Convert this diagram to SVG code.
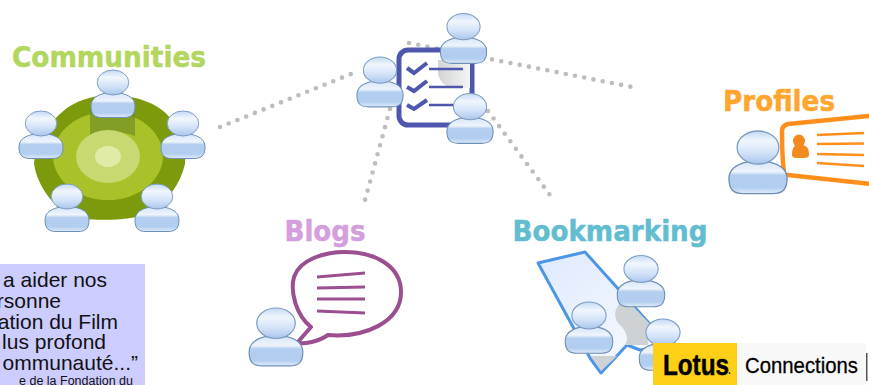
<svg xmlns="http://www.w3.org/2000/svg" width="869" height="385" viewBox="0 0 869 385">
<style>
.title{font-family:"DejaVu Sans",sans-serif;font-weight:700;font-size:28px;stroke-width:.5px;stroke-linejoin:round}
.quote{font-family:"Liberation Sans",Arial,sans-serif;font-size:21px;fill:#111;text-anchor:end}
.dots{fill:none;stroke:#bdbdbd;stroke-width:4.6;stroke-linecap:round;stroke-dasharray:0 9.4}
.ln{fill:none;stroke-linecap:butt}
</style>
<defs>
<filter id="soft" x="-5%" y="-5%" width="110%" height="110%"><feGaussianBlur stdDeviation=".45"/></filter>
<linearGradient id="headG" x1="0" y1="0" x2="0" y2="1"><stop offset="0" stop-color="#c4d9f3"/><stop offset=".3" stop-color="#f1f6fd"/><stop offset=".65" stop-color="#d3e3f8"/><stop offset="1" stop-color="#a9c6ec"/></linearGradient>
<linearGradient id="bodyG" x1="0" y1="0" x2="0" y2="1"><stop offset="0" stop-color="#d8e6f9"/><stop offset=".3" stop-color="#eef4fc"/><stop offset=".42" stop-color="#b4cef0"/><stop offset=".8" stop-color="#b1cdf0"/><stop offset="1" stop-color="#e2ecfa"/></linearGradient>
<linearGradient id="shade" x1="0" y1="0" x2="1" y2="0"><stop offset="0" stop-color="#d2d4d6"/><stop offset="1" stop-color="#f4f4f4"/></linearGradient>
<linearGradient id="bmG" x1="0" y1="0" x2="1" y2="1"><stop offset="0" stop-color="#dfeafe"/><stop offset="1" stop-color="#fafcff"/></linearGradient>
<g id="person" filter="url(#soft)">
<path d="M-22 36 C-22 28 -15 25 -9 23.500 L9 23.500 C15 25 22 28 22 36 C22 44 19 47.500 11 47.500 L-11 47.500 C-19 47.500 -22 44 -22 36 Z" fill="url(#bodyG)" stroke="#6c8fb6" stroke-width="1"/>
<ellipse cx="0" cy="12.500" rx="15.800" ry="12.500" fill="url(#headG)" stroke="#7d9dc2" stroke-width="1"/>
</g>
</defs>

<rect width="869" height="385" fill="#fff"/>

<g id="connectors">
<path class="dots" d="M220 127 L356 72"/>
<path class="dots" d="M409 43 L632 87"/>
<path class="dots" d="M390 109 L365 200"/>
<path class="dots" d="M488 111 L550 195"/>
</g>

<g id="communities">
<text class="title" x="109" y="67" fill="#b2d65e" stroke="#b2d65e" text-anchor="middle" textLength="194" lengthAdjust="spacingAndGlyphs">Communities</text>
<g filter="url(#soft)">
<path d="M110 95 C135 95 160 104 170 118 C180 132 186 150 185 164 C180 185 168 200 150 213 C130 221 90 222 68 216 C50 203 36 182 34 163 C36 140 52 118 70 106 C82 99 96 95 110 95 Z" fill="#7d9a09"/>
<ellipse cx="108" cy="156" rx="55" ry="44" fill="#a9c22c"/>
<path d="M90 108 L135 108 L135 136 C120 130 100 130 90 136 Z" fill="#6f8a24" opacity=".65"/>
<ellipse cx="108" cy="156.500" rx="32" ry="26.500" fill="#c7d96f"/>
<ellipse cx="108" cy="156.500" rx="13" ry="10.500" fill="#e0eca6"/>
</g>
<use href="#person" x="113" y="70"/>
<use href="#person" x="41" y="111"/>
<use href="#person" x="183" y="111"/>
<use href="#person" x="67" y="184"/>
<use href="#person" x="157" y="184"/>
</g>

<g id="center">
<rect x="399" y="50" width="73" height="75" rx="9" fill="#fff" stroke="#4f56ad" stroke-width="5"/>
<path d="M438 60 L470 60 L470 88 L452 88 C444 86 438 80 438 72 Z" fill="url(#shade)"/>
<g class="ln" stroke="#4f56ad">
<path d="M407 68 L414 73 L427 63" stroke-width="4"/>
<path d="M407 87 L414 91 L427 81" stroke-width="4"/>
<path d="M407 105 L414 109 L427 100" stroke-width="4"/>
<path d="M429 69 L463 69 M429 87 L463 87 M429 105 L460 105" stroke-width="2.500"/>
</g>
<use href="#person" transform="translate(463.500 13.500) scale(1.05)"/>
<use href="#person" transform="translate(380 57) scale(1.05)"/>
<use href="#person" transform="translate(470 93.500) scale(1.05)"/>
</g>

<g id="profiles">
<text class="title" x="779" y="111" fill="#ffa62f" stroke="#ffa62f" text-anchor="middle" textLength="112" lengthAdjust="spacingAndGlyphs">Profiles</text>
<path d="M880 115 L788 124 C784 125 782 127 782 131 C782 145 782 158 784 172 C784 174 785 175 788 175 L880 185 Z" fill="#fff" stroke="#ff8f1c" stroke-width="4.500"/>
<ellipse cx="799" cy="141" rx="6" ry="6.500" fill="#f28a1e"/>
<path d="M792 155 C792 146 795 145 800 145 C806 145 809 147 809 155 C809 158 805 158 800 158 C795 158 792 158 792 155 Z" fill="#f28a1e"/>
<g class="ln" stroke="#ff8f1c" stroke-width="2.600"><path d="M817 135 L864 133 M817 144 L864 143.500 M817 154 L864 155 M817 163 L864 166"/></g>
<use href="#person" transform="translate(758 131) scale(1.32)"/>
</g>

<g id="blogs">
<text class="title" x="325" y="241" fill="#d49fdc" stroke="#d49fdc" text-anchor="middle" textLength="81" lengthAdjust="spacingAndGlyphs">Blogs</text>
<path d="M311 327 C296 315 290 292 294 277 C300 259 325 252 345 252 C375 252 401 266 401 292 C401 322 365 338 328 335 C318 342 305 344 297 343 Z" fill="#fff" stroke="#9b4f8f" stroke-width="4" stroke-linejoin="round" filter="url(#soft)"/>
<g class="ln" stroke="#9b4f8f" stroke-width="2.800"><path d="M317 277 L365 273 M317 288 L365 287 M317 299 L365 299 M317 311 L365 313"/></g>
<use href="#person" transform="translate(276 308) scale(1.22)"/>
</g>

<g id="bookmarking">
<text class="title" x="610" y="241" fill="#61bdd0" stroke="#61bdd0" text-anchor="middle" textLength="195" lengthAdjust="spacingAndGlyphs">Bookmarking</text>
<path d="M538 263 L585 252 L648 322 L672 345 L640 350 L627 345 L601 373 L590 358 Z" fill="url(#bmG)" stroke="#4c96e6" stroke-width="3" stroke-linejoin="round" filter="url(#soft)"/>
<path d="M625 298 C612 308 613 320 622 327 C628 335 628 340 625 345 L648 345 L650 324 Z" fill="#cfd2d4" filter="url(#soft)"/>
<path d="M591 356 L617 356 L601 371 Z" fill="#cfd2d4" filter="url(#soft)"/>
<use href="#person" transform="translate(663 319) scale(1.08)"/>
<use href="#person" transform="translate(641 255.500) scale(1.08)"/>
<use href="#person" transform="translate(589 302) scale(1.08)"/>
</g>

<g id="quote">
<rect x="0" y="264" width="145" height="121" fill="#ccccff"/>
<text class="quote" x="107" y="287">a aider nos</text>
<text class="quote" x="61" y="308">rsonne</text>
<text class="quote" x="118" y="329">ation du Film</text>
<text class="quote" x="106" y="349">lus profond</text>
<text class="quote" x="138" y="370">ommunauté...”</text>
<text class="quote" x="133" y="385" style="font-size:12.500px">e de la Fondation du</text>
</g>

<g id="lotus">
<rect x="737" y="343" width="129" height="42" fill="#f8f8f8"/>
<rect x="866" y="353" width="1.500" height="28" fill="#555"/>
<rect x="653" y="343" width="84" height="42" fill="#fdd017"/>
<text x="663" y="374.500" font-family="'Liberation Sans',Arial,sans-serif" font-weight="700" font-size="30" fill="#000" stroke="#000" stroke-width=".5" textLength="66" lengthAdjust="spacingAndGlyphs">Lotus</text>
<circle cx="729.500" cy="373" r=".9" fill="#333"/>
<text x="745" y="373" font-family="'Liberation Sans',Arial,sans-serif" font-size="22.500" fill="#000" stroke="#000" stroke-width=".3" textLength="113" lengthAdjust="spacingAndGlyphs">Connections</text>
</g>
</svg>
